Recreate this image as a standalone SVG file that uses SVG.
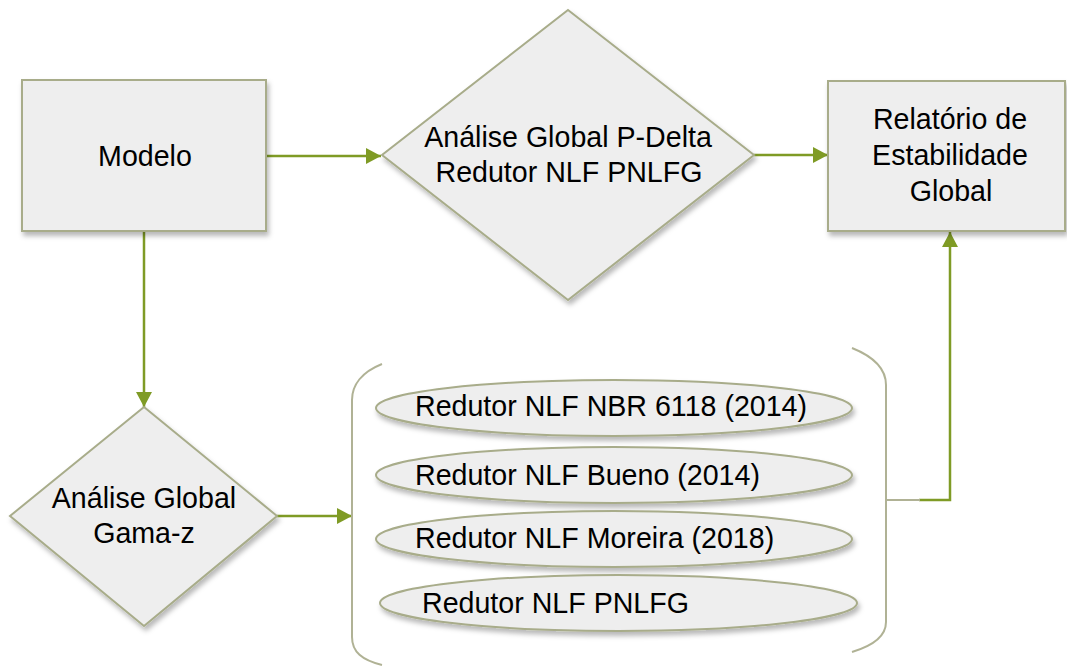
<svg xmlns="http://www.w3.org/2000/svg" width="1067" height="666" viewBox="0 0 1067 666">
  <defs>
    <filter id="sh" x="-10%" y="-10%" width="130%" height="140%">
      <feDropShadow dx="2" dy="4" stdDeviation="2.5" flood-color="#000" flood-opacity="0.28"/>
    </filter>
    <marker id="arr" markerWidth="16" markerHeight="16" refX="15" refY="8" orient="auto" markerUnits="userSpaceOnUse">
      <path d="M0,0 L15,8 L0,16 Z" fill="#7f9b25"/>
    </marker>
  </defs>
  <style>
    .shape { fill: #eeeeee; stroke: #a8ac8a; stroke-width: 2; }
    .txt { font-family: "Liberation Sans", Arial, sans-serif; font-size: 28.6px; fill: #000; }
    .c { text-anchor: middle; }
    .conn { fill: none; stroke: #7f9b25; stroke-width: 2.5; }
    .brk { fill: none; stroke: #b0b295; stroke-width: 2; }
  </style>
  <rect width="1067" height="666" fill="#ffffff"/>

  <g id="connectors">
    <line class="conn" x1="266" y1="156" x2="381" y2="156" marker-end="url(#arr)"/>
    <line class="conn" x1="754" y1="155" x2="828" y2="155" marker-end="url(#arr)"/>
    <line class="conn" x1="144" y1="231" x2="144" y2="407" marker-end="url(#arr)"/>
    <line class="conn" x1="277" y1="516" x2="352" y2="516" marker-end="url(#arr)"/>
    <polyline class="conn" points="919,500 950,500 950,232" marker-end="url(#arr)"/>
  </g>

  <g id="modelo">
    <rect class="shape" x="22" y="80" width="244" height="151" filter="url(#sh)"/>
    <text class="txt c" x="145" y="166">Modelo</text>
  </g>

  <g id="pdelta">
    <polygon class="shape" points="568,10 754,155 568,300 382,155" filter="url(#sh)"/>
    <text class="txt c" x="568" y="147">Análise Global P-Delta</text>
    <text class="txt c" x="569" y="182">Redutor NLF PNLFG</text>
  </g>

  <g id="relatorio">
    <rect class="shape" x="828" y="81" width="237" height="150" filter="url(#sh)"/>
    <text class="txt c" x="950" y="129">Relatório de</text>
    <text class="txt c" x="950" y="165">Estabilidade</text>
    <text class="txt c" x="951" y="201">Global</text>
  </g>

  <g id="gamaz">
    <polygon class="shape" points="144,407 277,516 144,626 10,516" filter="url(#sh)"/>
    <text class="txt c" x="144" y="508">Análise Global</text>
    <text class="txt c" x="144" y="543">Gama-z</text>
  </g>

  <g id="redutores">
    <path class="brk" d="M382,364 C362,372 352,385 352,400 L352,637 C352,652 362,660 382,665"/>
    <path class="brk" d="M852,348 C872,356 886,368 886,385 L886,622 C886,636 872,646 852,652"/>
    <line class="brk" x1="886" y1="500" x2="920" y2="500"/>
    <g id="r1">
      <ellipse class="shape" cx="614" cy="408" rx="238" ry="28" filter="url(#sh)"/>
      <text class="txt" x="415" y="416">Redutor NLF NBR 6118 (2014)</text>
    </g>
    <g id="r2">
      <ellipse class="shape" cx="614" cy="475" rx="238" ry="28" filter="url(#sh)"/>
      <text class="txt" x="415" y="485">Redutor NLF Bueno (2014)</text>
    </g>
    <g id="r3">
      <ellipse class="shape" cx="614" cy="539" rx="238" ry="28" filter="url(#sh)"/>
      <text class="txt" x="415" y="548">Redutor NLF Moreira (2018)</text>
    </g>
    <g id="r4">
      <ellipse class="shape" cx="618.5" cy="603" rx="238.5" ry="28" filter="url(#sh)"/>
      <text class="txt" x="422" y="613">Redutor NLF PNLFG</text>
    </g>
  </g>
</svg>
